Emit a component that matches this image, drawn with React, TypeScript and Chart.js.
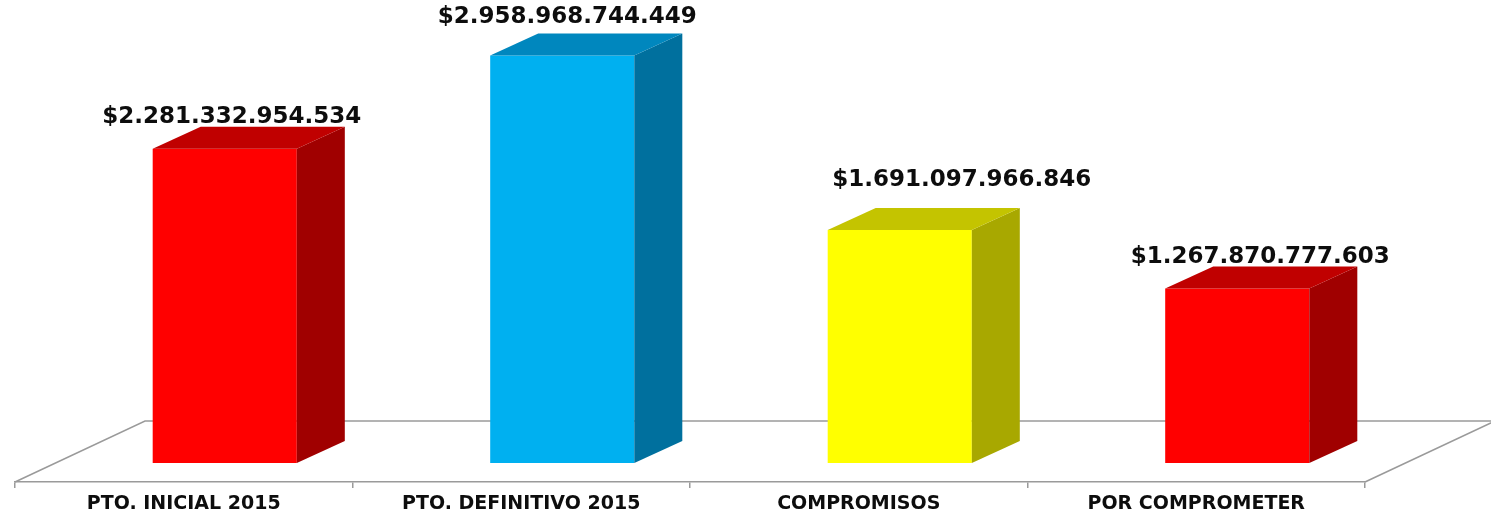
import React, { useEffect, useRef } from "react";
import { Chart, registerables } from "chart.js";

Chart.register(...registerables);

const categories = ["PTO. INICIAL 2015", "PTO. DEFINITIVO 2015", "COMPROMISOS", "POR COMPROMETER"];
const values = [2281332954534, 2958968744449, 1691097966846, 1267870777603];
const valueLabels = ["$2.281.332.954.534", "$2.958.968.744.449", "$1.691.097.966.846", "$1.267.870.777.603"];

const frontColors = ["#FF0000", "#00B0F0", "#FFFF00", "#FF0000"];
const topColors = ["#C00000", "#0087BE", "#C4C400", "#C00000"];
const sideColors = ["#A00000", "#00709E", "#A8A800", "#A00000"];

// label nudges (px) relative to the front-top centre of each bar
const labelNudgeX = [7, 5, 62, 23];
const labelNudgeY = [-32, -38, -50, -31];

const FLOOR_DX = 130;
const FLOOR_DY = -61;
const BAR_SHIFT_X = 41;
const BAR_SHIFT_Y = -19;
const DEPTH_DX = 48;
const DEPTH_DY = -22;
const LINE_COLOR = "#9A9A9A";

const threeD = {
  id: "threeD",
  beforeDatasetsDraw(chart: any) {
    const { ctx, chartArea } = chart;
    const { left, right, bottom } = chartArea;
    ctx.save();
    ctx.strokeStyle = LINE_COLOR;
    ctx.lineWidth = 1.5;
    ctx.beginPath();
    ctx.moveTo(left, bottom);
    ctx.lineTo(left + FLOOR_DX, bottom + FLOOR_DY);
    ctx.lineTo(right + FLOOR_DX, bottom + FLOOR_DY);
    ctx.lineTo(right, bottom);
    ctx.stroke();
    ctx.restore();
    ctx.save();
    ctx.translate(BAR_SHIFT_X, BAR_SHIFT_Y);
  },
  afterDatasetsDraw(chart: any) {
    const ctx = chart.ctx;
    const meta = chart.getDatasetMeta(0);
    meta.data.forEach((bar: any, i: number) => {
      const { x, y, base, width } = bar.getProps(["x", "y", "base", "width"], true);
      const xl = x - width / 2;
      const xr = x + width / 2;
      ctx.fillStyle = sideColors[i];
      ctx.beginPath();
      ctx.moveTo(xr, y);
      ctx.lineTo(xr + DEPTH_DX, y + DEPTH_DY);
      ctx.lineTo(xr + DEPTH_DX, base + DEPTH_DY);
      ctx.lineTo(xr, base);
      ctx.closePath();
      ctx.fill();
      ctx.fillStyle = topColors[i];
      ctx.beginPath();
      ctx.moveTo(xl, y);
      ctx.lineTo(xr, y);
      ctx.lineTo(xr + DEPTH_DX, y + DEPTH_DY);
      ctx.lineTo(xl + DEPTH_DX, y + DEPTH_DY);
      ctx.closePath();
      ctx.fill();
      ctx.font = 'bold 23px "DejaVu Sans"';
      ctx.textAlign = "center";
      ctx.textBaseline = "middle";
      ctx.fillStyle = "#0D0D0D";
      ctx.fillText(valueLabels[i], x + labelNudgeX[i], y + labelNudgeY[i]);
    });
    ctx.restore();
  },
};

export default function App() {
  const canvasRef = useRef<HTMLCanvasElement | null>(null);

  useEffect(() => {
    if (!canvasRef.current) return;
    const chart = new Chart(canvasRef.current, {
      type: "bar",
      data: {
        labels: categories,
        datasets: [
          {
            data: values,
            backgroundColor: frontColors,
            borderWidth: 0,
            barPercentage: 0.427,
            categoryPercentage: 1,
            clip: false as any,
          },
        ],
      },
      options: {
        responsive: false,
        animation: false,
        devicePixelRatio: 1,
        layout: { padding: { left: 15, right: 126, top: 0, bottom: 0 } },
        plugins: { legend: { display: false }, tooltip: { enabled: false } },
        scales: {
          x: {
            grid: {
              offset: true,
              drawOnChartArea: false,
              drawTicks: true,
              tickLength: 6,
              color: LINE_COLOR,
              lineWidth: 1.5,
            },
            border: { display: true, color: LINE_COLOR, width: 1.5 },
            ticks: {
              color: "#0D0D0D",
              font: { family: '"DejaVu Sans"', size: 19, weight: "bold" },
              padding: 5,
              maxRotation: 0,
              autoSkip: false,
            },
            afterFit(scale: any) {
              scale.height = 31;
            },
          },
          y: {
            display: false,
            min: 0,
            max: 3.5e12,
            afterFit(scale: any) {
              scale.width = 0;
            },
          },
        },
      },
      plugins: [threeD],
    });
    return () => chart.destroy();
  }, []);

  return (
    <div style={{ position: "fixed", left: 0, top: 0, width: 1491, height: 513, background: "#fff" }}>
      <canvas ref={canvasRef} width={1491} height={513} />
    </div>
  );
}
